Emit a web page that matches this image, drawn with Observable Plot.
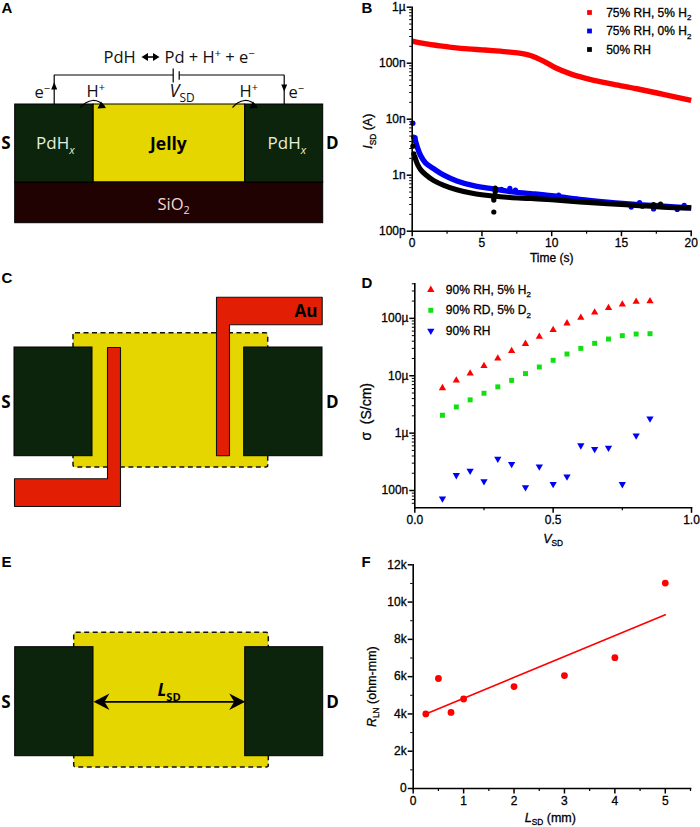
<!DOCTYPE html>
<html>
<head>
<meta charset="utf-8">
<script src="https://cdn.jsdelivr.net/npm/d3@7"></script>
<script src="https://cdn.jsdelivr.net/npm/@observablehq/plot@0.6"></script>
<style>
html,body{margin:0;padding:0;background:#fff}
#page{position:relative;width:700px;height:827px;overflow:hidden}
#page svg{position:absolute;overflow:visible;background:transparent;max-width:none}
.chart text{stroke:#000;stroke-width:.3px}
</style>
</head>
<body>
<div id="page"></div>
<script>
// ---------- Panel B: current versus time ----------
const bTimeRed = [0,1,2,3,4,5,6,7,7.8,8.48,9.44,10.27,11.35,12.8,14.45,16.1,18,20];
const bCurrentRed = [247,221,204,190,180,173,166,158,150,137,108,83,64.6,51,42,35,27.8,21.6];
const bTimeBlue = [0.16,0.36,0.6,0.95,1.55,2.27,3.2,4.4,5.6,7,8.5,10,12,14,16,18,20];
const bCurrentBlue = [4.8,3.2,2.24,1.66,1.3,1.0,0.79,0.65,0.58,0.51,0.47,0.43,0.37,0.33,0.3,0.28,0.26];
const bTimeBlack = [0.16,0.36,0.6,0.95,1.55,2.27,3.2,4.4,5.6,7,8.5,10,12,14,16,18,20];
const bCurrentBlack = [2.24,1.6,1.26,1.03,0.8,0.66,0.55,0.47,0.43,0.4,0.385,0.365,0.335,0.31,0.29,0.27,0.26];
const bOutlierTimeBlue = [0.05,0.1,0.2,6.4,7.0,7.4,10.5,15.7,16.3,17.3,19,19.5];
const bOutlierCurrentBlue = [8.5,4.8,4.7,0.56,0.58,0.54,0.44,0.27,0.325,0.25,0.245,0.29];
const bOutlierTimeBlack = [0.05,0.12,5.85,5.85,5.85,5.95,5.95,5.95,16.5,17.3,17.8];
const bOutlierCurrentBlack = [3.3,2.4,0.22,0.36,0.39,0.5,0.55,0.59,0.28,0.3,0.305];
const bLegend = ["75% RH, 5% H~2~","75% RH, 0% H~2~","50% RH"];
const bXTicks = [0,5,10,15,20], bXMinor = [2.5,7.5,12.5,17.5];
const bYTicks = [1e-10,1e-9,1e-8,1e-7,1e-6];
const bYLabels = ["100p","1n","10n","100n","1µ"];

// ---------- Panel D: conductivity versus voltage ----------
const dVoltage = [0.1,0.15,0.2,0.25,0.3,0.35,0.4,0.45,0.5,0.55,0.6,0.65,0.7,0.75,0.8,0.85];
const dH2 = [6.1,8.3,11,14.8,20,27,36,48,63,82,103,127,152,175,195,200];
const dD2 = [2.05,2.86,3.8,4.95,6.4,8.3,10.9,14.2,18.6,23.9,30,36.7,43.6,49.9,53.3,54];
const dRH = [0.0726,0.185,0.22,0.145,0.357,0.288,0.114,0.262,0.13,0.175,0.61,0.526,0.555,0.129,0.91,1.8];
const dLegend = ["90% RH, 5% H~2~","90% RD, 5% D~2~","90% RH"];
const dXTicks = [0,0.5,1], dXLabels = ["0.0","0.5","1.0"], dXMinor = [0.25,0.75];
const dYTicks = [1e-7,1e-6,1e-5,1e-4];
const dYLabels = ["100n","1µ","10µ","100µ"];

// ---------- Panel F: resistance versus length ----------
const fLength = [0.25,0.5,0.75,1,2,3,4,5];
const fResistance = [4000,5900,4080,4800,5470,6060,7020,11020];
const fFitLength = [0.25,5];
const fFitResistance = [4000,9320];
const fXTicks = [0,1,2,3,4,5], fXMinor = [0.5,1.5,2.5,3.5,4.5,5.5];
const fYTicks = [0,2000,4000,6000,8000,10000,12000];
const fYLabels = ["0","2k","4k","6k","8k","10k","12k"];
const fYMinor = [1000,3000,5000,7000,9000,11000];

// ---------- Schematics A, C, E (drawn in a page-sized diagram scale) ----------
const panelLetters = [["A",1,12.7],["B",361,12.7],["C",1,282],["D",361,287],["E",1,566],["F",361,566]];
const electrodeRects = [
  [14.7,93,104,182],[244.7,322.7,104,182],
  [14,92,347,455.7],[243.7,322,347,455.7],
  [14.7,93,646.7,755.7],[244.7,322.7,646.7,755.7]];
const jellyRectA = [[93,244.7,104,182]];
const oxideRect = [[14.7,322.7,182,222.7]];
const jellyDashed = [[73,267.7,332.7,467],[73.7,268.3,632.3,767]];
const auLeft = [[107,347],[120,347],[120,506],[14,506],[14,478.3],[107,478.3]];
const auRight = [[216,296.7],[321.7,296.7],[321.7,324.3],[229,324.3],[229,455.3],[216,455.3]];
const wireLeft = [[53.7,104],[53.7,74.5],[172.7,74.5]];
const wireRight = [[178.7,74.5],[283.7,74.5],[283.7,104]];
const batteryPlates = [[172.7,68,172.7,82],[178.7,70.7,178.7,79.3]];
const arcLeft = [[80,107],[85,102.5],[92,100],[99,101.5],[104,106]];
const arcRight = [[232,107],[237,102.5],[244,100],[251,101.5],[256,106]];
const smallHeads = [
  [[53.7,81.5],[50.7,89],[56.7,89]],
  [[283.7,91],[280.7,84],[286.7,84]],
  [[105.5,107.5],[97,108],[100.5,101]],
  [[257.5,107.5],[249,108],[252.5,101]]];
const equationArrowLine = [[145,56.5],[155,56.5]];
const equationArrowHeads = [
  [[141,56.5],[147.5,52.5],[147.5,60.5]],
  [[159,56.5],[152.5,52.5],[152.5,60.5]]];
const lengthArrowLine = [[100,701.3],[238,701.3]];
const lengthHeads = [
  [[93,701.3],[109,693],[104,701.3],[109,709.6]],
  [[244.7,701.3],[228.7,693],[233.7,701.3],[228.7,709.6]]];
const blackBoldLabels = [["S",5.5,148.5],["D",331.7,148.5],["S",5.5,407],["D",331.7,407],["S",5.5,707],["D",332,707]];
const equationLabels = [["PdH",103,62],["Pd + H^+^ + e^−^",164,62]];
const circuitLabels = [["e^−^",34,97],["H^+^",86,96],["H^+^",239,96],["e^−^",288,97]];
const voltageLabel = [["*V*~SD~",169,96.5]];
const electrodeLabels = [["PdH~*x*~",35.5,148],["PdH~*x*~",267,148]];
const jellyLabel = [["Jelly",149.5,149]];
const oxideLabel = [["SiO~2~",157,209]];
const auLabel = [["Au",294,316.7]];
const lengthLabel = [["*L*~SD~",157,695]];

// ---------- Colours ----------
const GREEN_DARK="#0c240b", YELLOW="#e5d600", OXIDE="#200202", AU="#e21e05";
const SANS="Liberation Sans, Arial, sans-serif", MYRIAD="'Open Sans', 'Noto Sans', sans-serif";
const RED="#ff0000", BLUE="#0000f5", GREEN="#10e010";

// ---------- Helpers ----------
const zip = (xs, ys) => xs.map((x,i)=>({x, y:ys[i]}));
const scaleBy = (xs, k) => xs.map(v=>v*k);
const logMinor = (lo, hi) => d3.range(lo,hi).flatMap(e=>[2,3,4,5,6,7,8,9].map(m=>m*10**e));

function rects(rows, o){return Plot.rect(rows,{x1:d=>d[0],x2:d=>d[1],y1:d=>d[2],y2:d=>d[3],...o});}
function poly(points, o){return Plot.line(points,{x:d=>d[0],y:d=>d[1],curve:"linear-closed",strokeLinejoin:"miter",...o});}
function path(points, o){return Plot.line(points,{x:d=>d[0],y:d=>d[1],strokeLinejoin:"miter",strokeLinecap:"butt",strokeWidth:1.2,stroke:"#000",...o});}
function labels(rows, o){return Plot.text(rows,{text:d=>d[0],x:d=>d[1],y:d=>d[2],textAnchor:"start",lineAnchor:"bottom",fontFamily:MYRIAD,fontSize:16.5,fill:"#111",...o});}

// Turn the light markup (~sub~, ^sup^, *italic*) into real tspans
function enrich(svg){
  const NS="http://www.w3.org/2000/svg";
  svg.querySelectorAll("text").forEach(t=>{
    const s=t.textContent;
    if(!/[~^*]/.test(s)) return;
    const fs=parseFloat(getComputedStyle(t).fontSize)||12;
    t.textContent="";
    let shift=0;
    s.split(/(~[^~]+~|\^[^^]+\^|\*[^*]+\*)/).filter(Boolean).forEach(tok=>{
      const sp=document.createElementNS(NS,"tspan");
      let txt=tok, dy=0, small=false, ital=false;
      if(tok[0]==="~"){txt=tok.slice(1,-1);dy=.3;small=true;}
      else if(tok[0]==="^"){txt=tok.slice(1,-1);dy=-.36;small=true;}
      if(txt[0]==="*"){ital=true;txt=txt.slice(1,-1);}
      const dpx=dy*fs, moved=dpx-shift;
      if(moved) sp.setAttribute("dy",moved.toFixed(2));
      shift=dpx;
      if(small) sp.setAttribute("font-size",(fs*.66).toFixed(1));
      if(ital) sp.setAttribute("font-style","italic");
      sp.textContent=txt;
      t.appendChild(sp);
    });
  });
}
function mount(svg,left,top,cls){
  svg.style.left=left+"px";svg.style.top=top+"px";
  if(cls) svg.classList.add(cls);
  document.getElementById("page").appendChild(svg);
  enrich(svg);
}
function frameAxes(){
  return [Plot.frame({anchor:"left",stroke:"#000",strokeWidth:1.6}),Plot.frame({anchor:"bottom",stroke:"#000",strokeWidth:1.6})];
}
function xAxes(ticks, minor, fmt){
  return [
    Plot.axisX(minor,{tickSize:3,strokeWidth:1.2,tickFormat:()=>"",label:null}),
    Plot.axisX({ticks,tickSize:5.5,strokeWidth:1.5,tickPadding:2,fontSize:12,fontFamily:SANS,fill:"#000",label:null,tickFormat:fmt})
  ];
}
function yAxes(ticks, names, minor){
  return [
    Plot.axisY(minor,{tickSize:2.5,strokeWidth:1,tickFormat:()=>"",label:null}),
    Plot.axisY({ticks,tickSize:5,strokeWidth:1.5,tickPadding:1.5,fontSize:12,fontFamily:SANS,fill:"#000",label:null,tickFormat:d=>names[ticks.indexOf(d)]})
  ];
}
function legendMarks(entries, dxDot, dxText, dy0, step){
  return entries.flatMap((e,i)=>[
    Plot.dot([e.label],{frameAnchor:"top-left",dx:dxDot,dy:dy0+i*step,symbol:e.symbol,r:e.r,fill:e.fill,rotate:e.rotate||0}),
    Plot.text([e.label],{frameAnchor:"top-left",dx:dxText,dy:dy0+i*step+4,text:d=>d,textAnchor:"start",lineAnchor:"bottom",fontFamily:SANS,fontSize:12,fill:"#000"})
  ]);
}
function axisTitle(text, anchor, dx, dy, rotate, size){
  return Plot.text([text],{frameAnchor:anchor,dx,dy,rotate:rotate||0,text:d=>d,textAnchor:"middle",lineAnchor:"bottom",fontFamily:SANS,fontSize:size||12.5,fill:"#000"});
}

// ---------- Diagram ----------
mount(Plot.plot({
  width:700,height:827,margin:0,
  x:{domain:[0,700],range:[0,700],axis:null},
  y:{domain:[0,827],range:[0,827],axis:null},
  marks:[
    rects(jellyDashed,{fill:YELLOW,stroke:"#111",strokeWidth:1.5,strokeDasharray:"5,3.5",rx:2}),
    rects(jellyRectA,{fill:YELLOW,stroke:"#000",strokeWidth:1}),
    rects(oxideRect,{fill:OXIDE,stroke:"#000",strokeWidth:1}),
    rects(electrodeRects,{fill:GREEN_DARK,stroke:"#000",strokeWidth:1}),
    poly(auLeft,{fill:AU,stroke:"#111",strokeWidth:1.1}),
    poly(auRight,{fill:AU,stroke:"#111",strokeWidth:1.1}),
    path(wireLeft),path(wireRight),
    Plot.link(batteryPlates,{x1:d=>d[0],y1:d=>d[1],x2:d=>d[2],y2:d=>d[3],stroke:"#000",strokeWidth:1.2}),
    path(arcLeft,{curve:"catmull-rom"}),path(arcRight,{curve:"catmull-rom"}),
    ...smallHeads.map(h=>poly(h,{fill:"#000",stroke:"none"})),
    path(equationArrowLine,{strokeWidth:1.6}),
    ...equationArrowHeads.map(h=>poly(h,{fill:"#000",stroke:"none"})),
    path(lengthArrowLine,{strokeWidth:1.8}),
    ...lengthHeads.map(h=>poly(h,{fill:"#000",stroke:"none"})),
    labels(panelLetters,{fontFamily:SANS,fontWeight:700,fontSize:15,fill:"#000"}),
    labels(blackBoldLabels,{fontWeight:700,fontSize:17,fill:"#000",textAnchor:"middle"}),
    labels(equationLabels),
    labels(circuitLabels),
    labels(voltageLabel,{fontSize:18}),
    labels(electrodeLabels,{fill:"#e6efdf",fontSize:17}),
    labels(jellyLabel,{fontWeight:700,fontSize:17.5,fill:"#000"}),
    labels(oxideLabel,{fill:"#f4d8d4",fontSize:16.5}),
    labels(auLabel,{fontWeight:700,fontSize:17,fill:"#000"}),
    labels(lengthLabel,{fontWeight:700,fontSize:17,fill:"#000"})
  ]
}),0,0);

// ---------- Panel B ----------
const nano=1e-9;
mount(Plot.plot({
  width:350,height:270,marginLeft:61.7,marginRight:9.3,marginTop:6.7,marginBottom:39.3,
  x:{domain:[0,20],axis:null},
  y:{type:"log",domain:[1e-10,1e-6],axis:null},
  marks:[
    Plot.line(zip(bTimeRed,scaleBy(bCurrentRed,nano)),{x:"x",y:"y",stroke:RED,strokeWidth:5.4,curve:"catmull-rom",strokeLinecap:"butt"}),
    Plot.line(zip(bTimeBlue,scaleBy(bCurrentBlue,nano)),{x:"x",y:"y",stroke:BLUE,strokeWidth:5.4,curve:"catmull-rom",strokeLinecap:"butt"}),
    Plot.dot(zip(bOutlierTimeBlue,scaleBy(bOutlierCurrentBlue,nano)),{x:"x",y:"y",fill:BLUE,r:2.6}),
    Plot.line(zip(bTimeBlack,scaleBy(bCurrentBlack,nano)),{x:"x",y:"y",stroke:"#000",strokeWidth:5.2,curve:"catmull-rom",strokeLinecap:"butt"}),
    Plot.dot(zip(bOutlierTimeBlack,scaleBy(bOutlierCurrentBlack,nano)),{x:"x",y:"y",fill:"#000",r:2.6}),
    ...frameAxes(),
    ...xAxes(bXTicks,bXMinor,d=>String(d)),
    ...yAxes(bYTicks,bYLabels,logMinor(-10,-6)),
    axisTitle("Time (s)","bottom",0,31,0,12),
    axisTitle("*I*~SD~ (A)","left",-40,12,-90),
    ...legendMarks([
      {label:bLegend[0],symbol:"square",r:2.7,fill:RED},
      {label:bLegend[1],symbol:"square",r:2.7,fill:BLUE},
      {label:bLegend[2],symbol:"square",r:2.7,fill:"#000"}],177.3,194,5.3,18.5)
  ]
}),350,0,"chart");

// ---------- Panel D ----------
const micro=1e-6;
mount(Plot.plot({
  width:350,height:280,marginLeft:64.3,marginRight:9,marginTop:13.3,marginBottom:42.7,
  x:{domain:[0,1],axis:null},
  y:{type:"log",domain:[5e-8,4e-4],axis:null},
  marks:[
    Plot.dot(zip(dVoltage,scaleBy(dH2,micro)),{x:"x",y:"y",symbol:"triangle",r:2.7,fill:RED}),
    Plot.dot(zip(dVoltage,scaleBy(dD2,micro)),{x:"x",y:"y",symbol:"square",r:2.8,fill:GREEN}),
    Plot.dot(zip(dVoltage,scaleBy(dRH,micro)),{x:"x",y:"y",symbol:"triangle",r:2.7,fill:BLUE,rotate:180}),
    ...frameAxes(),
    ...xAxes(dXTicks,dXMinor,d=>dXLabels[dXTicks.indexOf(d)]),
    ...yAxes(dYTicks,dYLabels,[6e-8,7e-8,8e-8,9e-8,...logMinor(-7,-4),2e-4,3e-4,4e-4]),
    axisTitle("*V*~SD~","bottom",0,34.7),
    axisTitle("σ  (S/cm)","left",-43.5,16,-90,14),
    ...legendMarks([
      {label:dLegend[0],symbol:"triangle",r:2.7,fill:RED},
      {label:dLegend[1],symbol:"square",r:2.8,fill:GREEN},
      {label:dLegend[2],symbol:"triangle",r:2.7,fill:BLUE,rotate:180}],16,31,6,20.5)
  ]
}),350,270,"chart");

// ---------- Panel F ----------
mount(Plot.plot({
  width:350,height:277,marginLeft:62.7,marginRight:10,marginTop:14.3,marginBottom:39,
  x:{domain:[0,5.5],axis:null},
  y:{domain:[0,12000],axis:null},
  marks:[
    Plot.line(zip(fFitLength,fFitResistance),{x:"x",y:"y",stroke:RED,strokeWidth:1.6}),
    Plot.dot(zip(fLength,fResistance),{x:"x",y:"y",r:3.4,fill:RED}),
    ...frameAxes(),
    ...xAxes(fXTicks,fXMinor,d=>String(d)),
    ...yAxes(fYTicks,fYLabels,fYMinor),
    axisTitle("*L*~SD~ (mm)","bottom",-1.5,33),
    axisTitle("*R*~LN~ (ohm-mm)","left",-37.7,10,-90)
  ]
}),350,550,"chart");
</script>
</body>
</html>
